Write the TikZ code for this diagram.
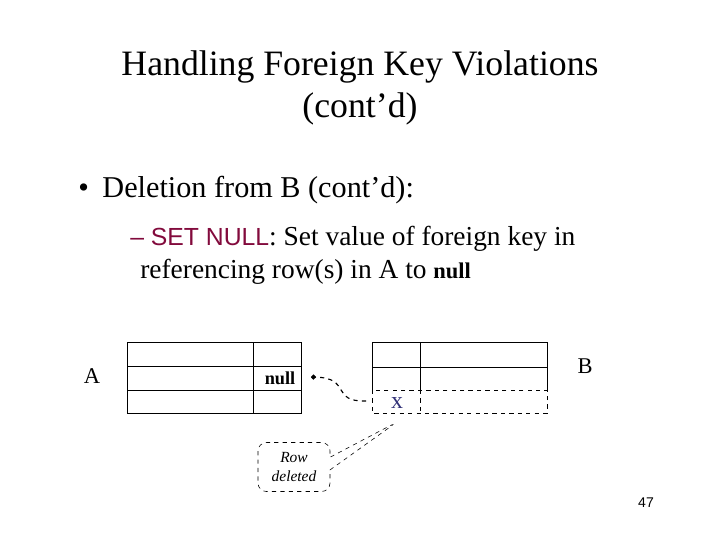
\documentclass[tikz,border=0pt]{standalone}
\usepackage{fontspec}
\setmainfont{Liberation Serif}
\newfontfamily\arialfont{Liberation Sans}
\usetikzlibrary{calc,arrows.meta,shapes.callouts}
\definecolor{setred}{RGB}{130,10,60}
\definecolor{xblue}{RGB}{50,50,120}

\begin{document}
\begin{tikzpicture}[x=0.025cm,y=-0.025cm]
\useasboundingbox (0,0) rectangle (720,540);
\node[anchor=base,font=\fontsize{25.4}{30}\selectfont] (title1) at (360,75) {Handling Foreign Key Violations};
\node[anchor=base,font=\fontsize{25.4}{30}\selectfont] (title2) at (360,117) {(cont'd)};
\node[anchor=base west,inner sep=0pt,font=\fontsize{21.5}{26}\selectfont] (bullet) at (78,197) {\textbullet\hspace{0.45em}Deletion from B (cont'd):};
\node[anchor=base west,inner sep=0pt,font=\fontsize{19.5}{24}\selectfont] (sub1) at (130,245) {{\arialfont\fontsize{17.6}{22}\selectfont\color{setred}\textendash\ SET NULL}: Set value of foreign key in};
\node[anchor=base west,inner sep=0pt,font=\fontsize{19.5}{24}\selectfont] (sub2) at (140,278) {referencing row(s) in A to {\fontsize{16}{20}\selectfont\bfseries null}};
\coordinate (A) at (127,342); \coordinate (B) at (372,342);
\draw (127,342) rectangle (301,413);
\foreach \y in {366,390}{\draw (127,\y) -- (301,\y);}
\draw (253,342) -- (253,413);
\draw (372,390) -- (372,342) -- (547,342) -- (547,390);
\draw (372,367) -- (547,367);
\draw (420,342) -- (420,390);
\draw[dashed] (372,390) rectangle (547,413);
\draw[dashed] (420,390) -- (420,413);
\foreach \n/\x/\y in {A/92/376,B/585/366}{\node[font=\fontsize{16}{20}\selectfont] (lab\n) at (\x,\y) {\n};}
\node[font=\fontsize{13}{16}\selectfont\bfseries] (nullval) at (280,378) {null};
\node[font=\fontsize{17}{20}\selectfont,text=xblue] (xval) at (397,403) {x};
\coordinate (xtail) at (366,401); \coordinate (nulltip) at (311,377);
\draw[dashed,thick,-{Circle[length=3.5pt]}] (xtail) .. controls (330,402) and (352,378) .. (nulltip);
\coordinate (xtip) at (397,422);
\node[rectangle callout,draw,dashed,rounded corners=6pt,callout absolute pointer={(xtip)},callout pointer width=9pt,minimum width=1.8cm,minimum height=1.225cm,align=center,font=\itshape\fontsize{11}{13}\selectfont] (rowdel) at (294,467) {Row\\deleted};
\node[font=\arialfont\fontsize{10}{12}\selectfont] (pagenum) at (646,503) {47};
\end{tikzpicture}
\end{document}
